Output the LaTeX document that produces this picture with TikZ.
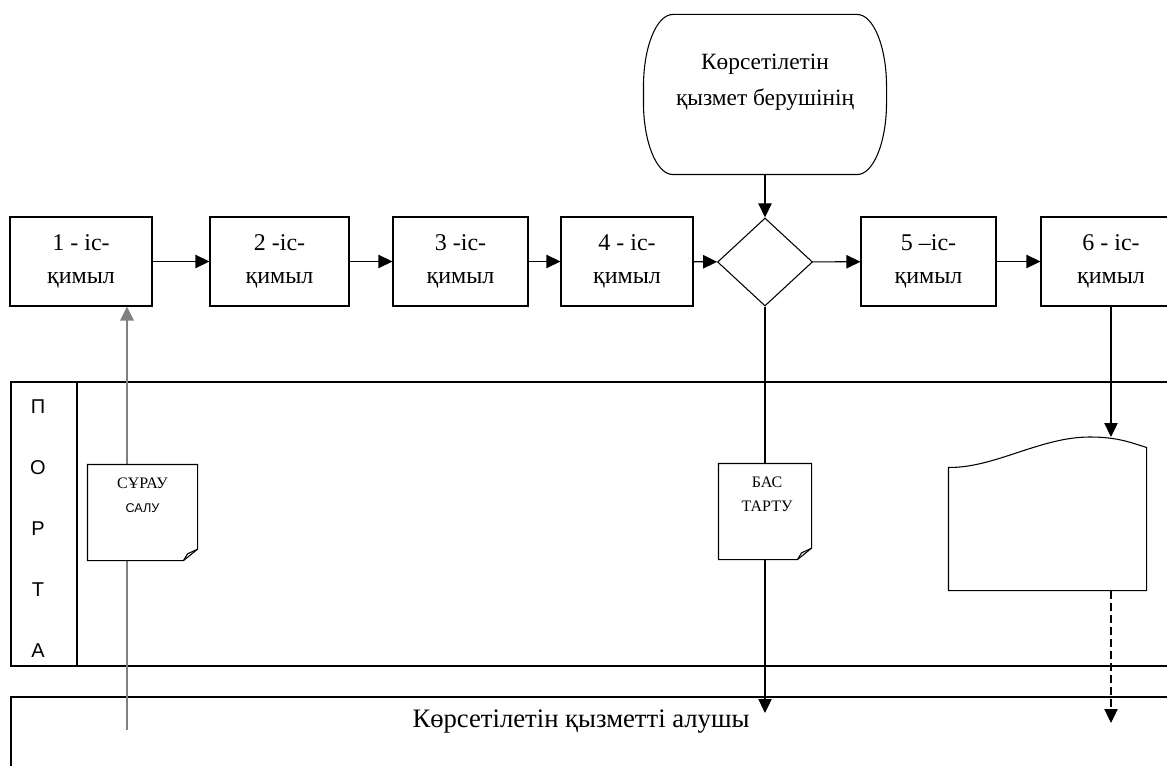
\documentclass[tikz,border=0pt]{standalone}
\usepackage{fontspec}
\setmainfont{Liberation Serif}
\setsansfont{Liberation Sans}
\usetikzlibrary{arrows.meta, shapes.geometric, positioning}

\begin{document}
\begin{tikzpicture} [x = 0.75pt, y = -0.75pt, line width = 0.8pt, >={Triangle[length=10.5pt, width=10pt]},
box/.style = {draw, inner sep = 0pt, minimum height = 66.75pt, align = center, font = \fontsize{18}{24.75}\selectfont},
doc/.style = {inner sep = 0pt, minimum height = 71.25pt},
small/.style = {align = center, font = \fontsize{12}{18}\selectfont},
letter/.style = {font = \sffamily\fontsize{15}{18}\selectfont}]
\useasboundingbox (0,0) rectangle (1167,766);
% lanes
\draw (11,382) rectangle (1190,666);
\draw (77,382) -- (77,666);
\draw (11,790) -- (11,697) -- (1190,697);
\foreach \c [count = \i] in {П,О,Р,Т,А}
  \node[letter] (p\i) at (38, 407 + 61*\i - 61) {\c};
\node[font = \fontsize{20}{22}\selectfont] (cl) at (581,722) {Көрсетілетін қызметті алушы};
% steps
\node[box, minimum width = 106.5pt] (b1) at (81,261.5) {1 - іс-\\қимыл};
\node[box, minimum width = 104.25pt] (b2) at (279.5,261.5) {2 -іс-\\қимыл};
\node[box, minimum width = 101.25pt] (b3) at (460.5,261.5) {3 -іс-\\қимыл};
\node[box, minimum width = 99pt] (b4) at (627,261.5) {4 - іс-\\қимыл};
\node[draw, diamond, inner sep = 0pt, minimum width = 71.25pt, minimum height = 66pt] (dec) at (765,262) {};
\node[box, minimum width = 101.25pt] (b5) at (928.5,261.5) {5 –іс-\\қимыл};
\node[box, minimum width = 105pt] (b6) at (1111,261.5) {6 - іс-\\қимыл};
\node[inner sep = 0pt, minimum width = 181.5pt, minimum height = 119.25pt] (src) at (765,94.5) {};
\draw ([xshift=-22pt]src.north east) arc[start angle=90, end angle=0, x radius=22pt, y radius=54pt]
  -- ([yshift=54pt]src.south east) arc[start angle=0, end angle=-90, x radius=22pt, y radius=54pt]
  -- ([xshift=22pt]src.south west) arc[start angle=270, end angle=180, x radius=22pt, y radius=54pt]
  -- ([yshift=-54pt]src.north west) arc[start angle=180, end angle=90, x radius=22pt, y radius=54pt] -- cycle;
\node[align = center, font = \fontsize{17.5}{27}\selectfont] (srct) at (765,82) {Көрсетілетін\\қызмет берушінің};
\draw [->] (src) -- (dec);
\draw [->] (b1) -- (b2);
\draw [->] (b2) -- (b3);
\draw [->] (b3) -- (b4);
\draw [->] (b4) -- (dec);
\draw [->] (dec) -- (b5);
\draw [->] (b5) -- (b6);
% request and refusal
\coordinate (e1) at (127,730);
\coordinate (e2) at (765,713);
\draw [->, line width = 1.6pt, black!50] (e1) -- (e1 |- b1.south);
\draw [->] (dec) -- (e2);
\node[doc, minimum width = 81.75pt] (q1) at (142.5,512.5) {};
\node[doc, minimum width = 69pt] (q2) at (765,511.5) {};
\draw[fill = white] (q1.north west) -- (q1.north east) -- ([yshift=8.5pt]q1.south east) -- ([xshift=-10.5pt]q1.south east) -- (q1.south west) -- cycle;
\draw ([xshift=-10.5pt]q1.south east) -- ([xshift=-7.5pt, yshift=5pt]q1.south east) -- ([yshift=8.5pt]q1.south east);
\draw[fill = white] (q2.north west) -- (q2.north east) -- ([yshift=8.5pt]q2.south east) -- ([xshift=-10.5pt]q2.south east) -- (q2.south west) -- cycle;
\draw ([xshift=-10.5pt]q2.south east) -- ([xshift=-7.5pt, yshift=5pt]q2.south east) -- ([yshift=8.5pt]q2.south east);
\node[small] (q1t) at (142.5,495) {СҰРАУ\\\sffamily\fontsize{9.5}{18}\selectfont САЛУ};
\node[small] (q2t) at (767,494.5) {БАС\\ТАРТУ};
% result
\node[inner sep = 0pt, minimum width = 147.75pt, minimum height = 91.5pt] (rep) at (1047.5,529) {};
\draw (rep.south west) -- (rep.north west) .. controls (995,468) and (1040,437) .. (1090,437)
  .. controls (1118,437) and (1132,443) .. ([yshift=15pt]rep.north east) -- (rep.south east) -- cycle;
\coordinate (tp) at (1111,437);
\coordinate (e3) at (1111,723);
\draw [->] (b6) -- (tp);
\draw [->, dash pattern = on 6pt off 3pt] (rep.south -| tp) -- (e3);
\end{tikzpicture}
\end{document}
